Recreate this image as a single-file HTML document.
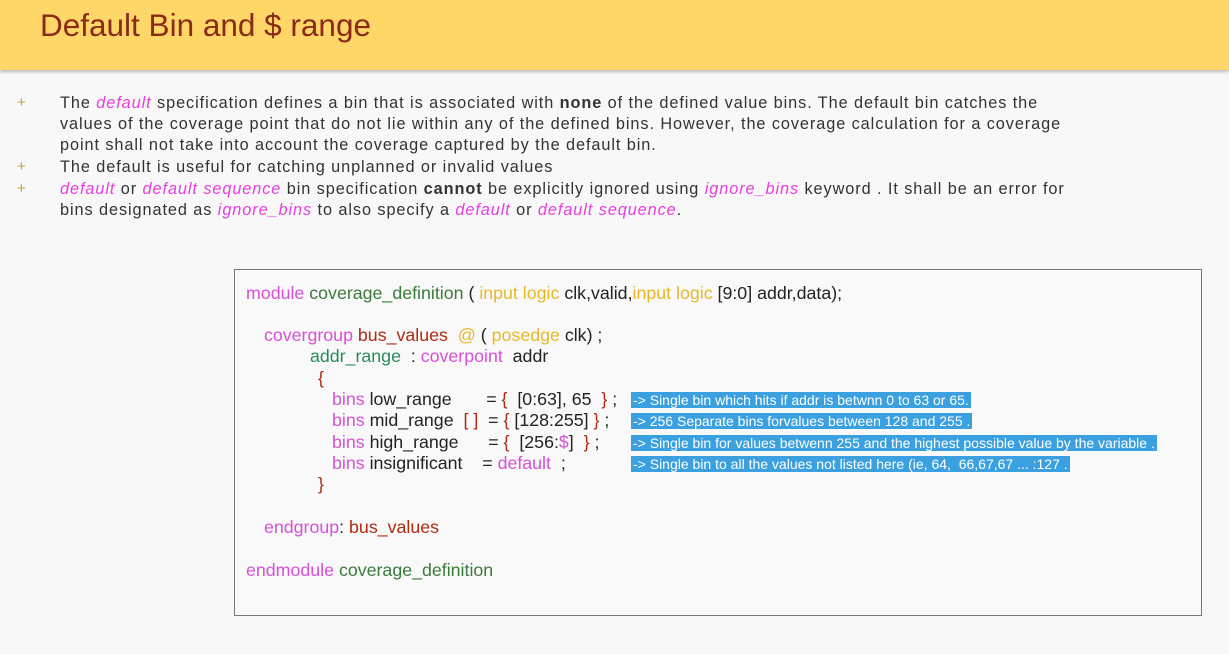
<!DOCTYPE html>
<html><head><style>
body{margin:0;width:1229px;height:654px;background:#f8f8f8;font-family:"Liberation Sans",sans-serif;position:relative;overflow:hidden}
.hdr{position:absolute;left:0;top:0;width:1229px;height:70px;background:#fed768;box-shadow:0 2px 3px rgba(0,0,0,.25)}
.hdr div{position:absolute;left:40px;top:7px;font-size:31.5px;color:#8a2a17}
.b{position:absolute;left:60px;font-size:16.3px;letter-spacing:0.92px;line-height:21px;color:#333;white-space:nowrap}
.p{position:absolute;left:17px;font-size:15px;color:#c8a040}
i{color:#e83ee0}
.box{position:absolute;left:234px;top:269px;width:966px;height:345px;border:1px solid #777;background:#f9f9f9}
.c{position:absolute;font-size:17.8px;color:#222;white-space:pre}
.m{color:#d84fd8}.g{color:#3a7a3a}.y{color:#e8b828}.r{color:#b02a10}.t{color:#2a8a5a}
.h{position:absolute;left:631px;background:#3aa0e0;color:#fff;font-size:14px;line-height:16px;padding:0 2px;white-space:pre}
</style></head><body>
<div class="hdr"><div>Default Bin and $ range</div></div>
<div class="p" style="top:94px">+</div>
<div class="p" style="top:158px">+</div>
<div class="p" style="top:180px">+</div>
<div class="b" style="top:93px">The <i>default</i> specification defines a bin that is associated with <b>none</b> of the defined value bins. The default bin catches the<br>values of the coverage point that do not lie within any of the defined bins. However, the coverage calculation for a coverage<br>point shall not take into account the coverage captured by the default bin.</div>
<div class="b" style="top:157px">The default is useful for catching unplanned or invalid values</div>
<div class="b" style="top:179px"><i>default</i> or <i>default sequence</i> bin specification <b>cannot</b> be explicitly ignored using <i>ignore_bins</i> keyword . It shall be an error for<br>bins designated as <i>ignore_bins</i> to also specify a <i>default</i> or <i>default sequence</i>.</div>
<div class="box"></div>
<div class="c" style="left:246px;top:283px"><span class="m">module</span> <span class="g">coverage_definition</span> ( <span class="y">input logic</span> clk,valid,<span class="y">input logic</span> [9:0] addr,data);</div>
<div class="c" style="left:264px;top:325px"><span class="m">covergroup</span> <span class="r">bus_values</span>  <span class="y">@</span> ( <span class="y">posedge</span> clk) ;</div>
<div class="c" style="left:310px;top:346px"><span class="t">addr_range</span>  : <span class="m">coverpoint</span>  addr</div>
<div class="c r" style="left:318px;top:368px">{</div>
<div class="c" style="left:332px;top:389px"><span class="m">bins</span> low_range       = <span class="r">{</span>  [0:63], 65  <span class="r">}</span> ;</div>
<div class="c" style="left:332px;top:410px"><span class="m">bins</span> mid_range  <span class="r">[ ]</span>  = <span class="r">{</span> [128:255] <span class="r">}</span> ;</div>
<div class="c" style="left:332px;top:432px"><span class="m">bins</span> high_range      = <span class="r">{</span>  [256:<span class="m">$</span>]  <span class="r">}</span> ;</div>
<div class="c" style="left:332px;top:453px"><span class="m">bins</span> insignificant    = <span class="m">default</span>  ;</div>
<div class="c r" style="left:318px;top:474px">}</div>
<div class="c" style="left:264px;top:517px"><span class="m">endgroup</span>: <span class="r">bus_values</span></div>
<div class="c" style="left:246px;top:560px"><span class="m">endmodule</span> <span class="g">coverage_definition</span></div>
<div class="h" style="top:392px">-&gt; Single bin which hits if addr is betwnn 0 to 63 or 65.</div>
<div class="h" style="top:413px">-&gt; 256 Separate bins forvalues between 128 and 255 .</div>
<div class="h" style="top:435px">-&gt; Single bin for values betwenn 255 and the highest possible value by the variable .</div>
<div class="h" style="top:456px">-&gt; Single bin to all the values not listed here (ie, 64,  66,67,67 ... :127 .</div>
</body></html>
